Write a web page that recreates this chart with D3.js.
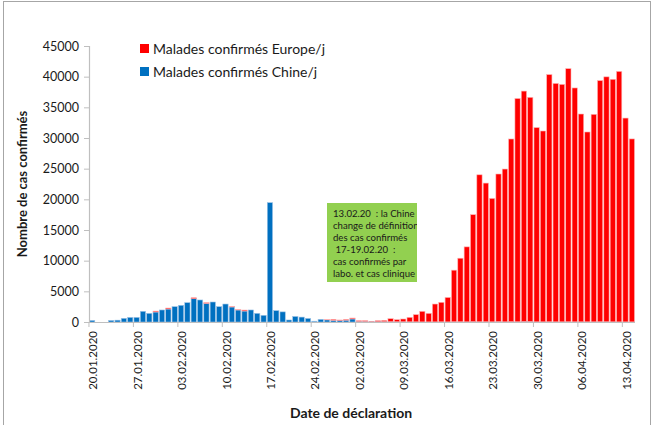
<!DOCTYPE html>
<html>
<head>
<meta charset="utf-8">
<script src="https://cdn.jsdelivr.net/npm/d3@7"></script>
<style>
  html, body { margin: 0; padding: 0; background: #fff; }
  svg { display: block; }
  text { font-family: Lato, "Open Sans", sans-serif; }
</style>
</head>
<body>
<svg id="chart" width="653" height="425"></svg>
<script>
// ---------- DATA ----------
const dates = [
  "20.01.2020","21.01.2020","22.01.2020","23.01.2020","24.01.2020","25.01.2020","26.01.2020",
  "27.01.2020","28.01.2020","29.01.2020","30.01.2020","31.01.2020","01.02.2020","02.02.2020",
  "03.02.2020","04.02.2020","05.02.2020","06.02.2020","07.02.2020","08.02.2020","09.02.2020",
  "10.02.2020","11.02.2020","12.02.2020","13.02.2020","14.02.2020","15.02.2020","16.02.2020",
  "17.02.2020","18.02.2020","19.02.2020","20.02.2020","21.02.2020","22.02.2020","23.02.2020",
  "24.02.2020","25.02.2020","26.02.2020","27.02.2020","28.02.2020","29.02.2020","01.03.2020",
  "02.03.2020","03.03.2020","04.03.2020","05.03.2020","06.03.2020","07.03.2020","08.03.2020",
  "09.03.2020","10.03.2020","11.03.2020","12.03.2020","13.03.2020","14.03.2020","15.03.2020",
  "16.03.2020","17.03.2020","18.03.2020","19.03.2020","20.03.2020","21.03.2020","22.03.2020",
  "23.03.2020","24.03.2020","25.03.2020","26.03.2020","27.03.2020","28.03.2020","29.03.2020",
  "30.03.2020","31.03.2020","01.04.2020","02.04.2020","03.04.2020","04.04.2020","05.04.2020",
  "06.04.2020","07.04.2020","08.04.2020","09.04.2020","10.04.2020","11.04.2020","12.04.2020",
  "13.04.2020","14.04.2020"
];
const tickLabels = ["20.01.2020","27.01.2020","03.02.2020","10.02.2020","17.02.2020","24.02.2020",
  "02.03.2020","09.03.2020","16.03.2020","23.03.2020","30.03.2020","06.04.2020","13.04.2020"];

const chine = [
  250,0,0,250,300,600,750,
  750,1740,1410,1630,1960,2120,2500,
  2720,3150,3800,3590,3040,3260,2500,
  2930,2450,1960,1790,1960,1410,1090,
  19460,1850,1650,330,900,800,580,
  130,430,350,280,250,300,500,
  100,100,60,60,60,50,40,
  40,30,30,20,20,20,30,
  20,40,40,30,60,40,40,
  30,60,30,50,40,80,80,
  30,30,40,30,30,40,30,
  30,30,30,40,40,30,20,
  20,20
];
const europe = [
  0,0,0,0,0,0,0,
  0,0,0,150,0,160,0,
  0,0,160,0,110,0,0,
  0,110,60,160,0,0,0,
  0,0,0,0,0,0,0,
  0,0,80,150,80,130,150,
  120,120,50,160,210,490,340,
  450,730,1170,1720,1390,2910,3180,
  3980,8410,10360,12220,17440,23960,22610,
  20120,24070,24910,29790,36400,37570,36550,
  31670,31110,40300,38870,38710,41270,38130,
  33880,30950,33830,39320,39930,39540,40840,
  33230,29830
];
const yTicks = [0,5000,10000,15000,20000,25000,30000,35000,40000,45000];
const seriesNames = ["Malades confirmés Europe/j", "Malades confirmés Chine/j"];
const noteLines = ["13.02.20  : la Chine", "change de définition", "des cas confirmés",
  " 17-19.02.20  :", "cas confirmés par", "labo. et cas clinique"];
</script>
<script>
const svg = d3.select("#chart");
const W = 653, H = 425;
svg.append("rect").attr("x",0).attr("y",0).attr("width",W).attr("height",H).attr("fill","#fff");
svg.append("rect").attr("x",3.5).attr("y",1.5).attr("width",647).attr("height",440)
  .attr("fill","none").attr("stroke","#a6a6a6").attr("stroke-width",1);

const x = d3.scaleBand().domain(dates).range([89, 635]).paddingInner(0.17).paddingOuter(0.08);
const step = x.step();
const x0 = d => x(d) - x.paddingInner()*step/2; // category boundary
const y = d3.scaleLinear().domain([0,45000]).range([322, 46]);

const rows = dates.map((d,i) => ({date:d, chine: chine[i] || 0, europe: europe[i] || 0}));
const stack = d3.stack().keys(["chine","europe"])(rows);
const colors = {chine:"#0070C0", europe:"#FF0000"};
const strokes = {chine:"#9DC3E6", europe:"#FFB3B3"};

stack.forEach(layer => {
  svg.append("g").selectAll("rect").data(layer).join("rect")
    .attr("x", d => x(d.data.date))
    .attr("width", x.bandwidth())
    .attr("y", d => y(d[1]))
    .attr("height", d => Math.max(0, y(d[0]) - y(d[1])))
    .attr("fill", colors[layer.key])
    .attr("stroke", d => (d[1]-d[0])>0 ? strokes[layer.key] : "none")
    .attr("stroke-width", 0.6);
});

// Y axis
const yAxis = d3.axisLeft(y).tickValues(yTicks).tickSize(5).tickPadding(5).tickFormat(d3.format("d"));
const gy = svg.append("g").attr("transform","translate(89,0)").call(yAxis);
gy.select(".domain").attr("stroke","#bfbfbf").attr("stroke-width",1.2);
gy.selectAll(".tick line").attr("stroke","#bfbfbf");
gy.selectAll(".tick text").attr("font-size","12.5px").attr("fill","#1a1a1a")
  .attr("font-family","Lato, sans-serif");

// X axis
svg.append("line").attr("x1",89).attr("x2",635).attr("y1",322.5).attr("y2",322.5)
  .attr("stroke","#bfbfbf").attr("stroke-width",1.2);
const gx = svg.append("g");
gx.selectAll("line.tk").data(tickLabels).join("line")
  .attr("x1", d => x0(d)).attr("x2", d => x0(d))
  .attr("y1", 322).attr("y2", 327).attr("stroke","#bfbfbf");
gx.selectAll("text").data(tickLabels).join("text")
  .attr("transform", d => `translate(${x(d) + x.bandwidth()/2 + 1},331) rotate(-90)`)
  .attr("text-anchor","end").attr("dy","0.35em")
  .attr("font-size","11.5px").attr("fill","#1a1a1a")
  .text(d => d);

// axis titles
svg.append("text").attr("transform","translate(22,184) rotate(-90)")
  .attr("text-anchor","middle").attr("dy","0.35em")
  .attr("font-weight","bold").attr("font-size","13px").attr("fill","#1a1a1a")
  .text("Nombre de cas confirmés");
svg.append("text").attr("x",351).attr("y",413).attr("dy","0.35em")
  .attr("text-anchor","middle").attr("font-weight","bold").attr("font-size","14px").attr("fill","#1a1a1a")
  .text("Date de déclaration");

// Legend
const leg = svg.append("g");
[["europe",seriesNames[0],49],["chine",seriesNames[1],72]].forEach(([k,name,cy]) => {
  leg.append("rect").attr("x",140).attr("y",cy-5).attr("width",9).attr("height",9).attr("fill",colors[k]);
  leg.append("text").attr("x",153).attr("y",cy).attr("dy","0.35em")
    .attr("font-size","14px").attr("fill","#1a1a1a").text(name);
});

// Annotation box
svg.append("clipPath").attr("id","noteclip").append("rect")
  .attr("x",327).attr("y",203).attr("width",90).attr("height",79);
svg.append("rect").attr("x",327).attr("y",203).attr("width",90).attr("height",79)
  .attr("fill","#92D050");
svg.append("g").attr("clip-path","url(#noteclip)").selectAll("text").data(noteLines).join("text")
  .attr("x",333).attr("y",(d,i)=>213.5 + i*12.1).attr("dy","0.35em")
  .attr("xml:space","preserve").style("white-space","pre")
  .attr("font-size","9.6px").attr("fill","#1a1a1a").text(d => d);
</script>
</body>
</html>
